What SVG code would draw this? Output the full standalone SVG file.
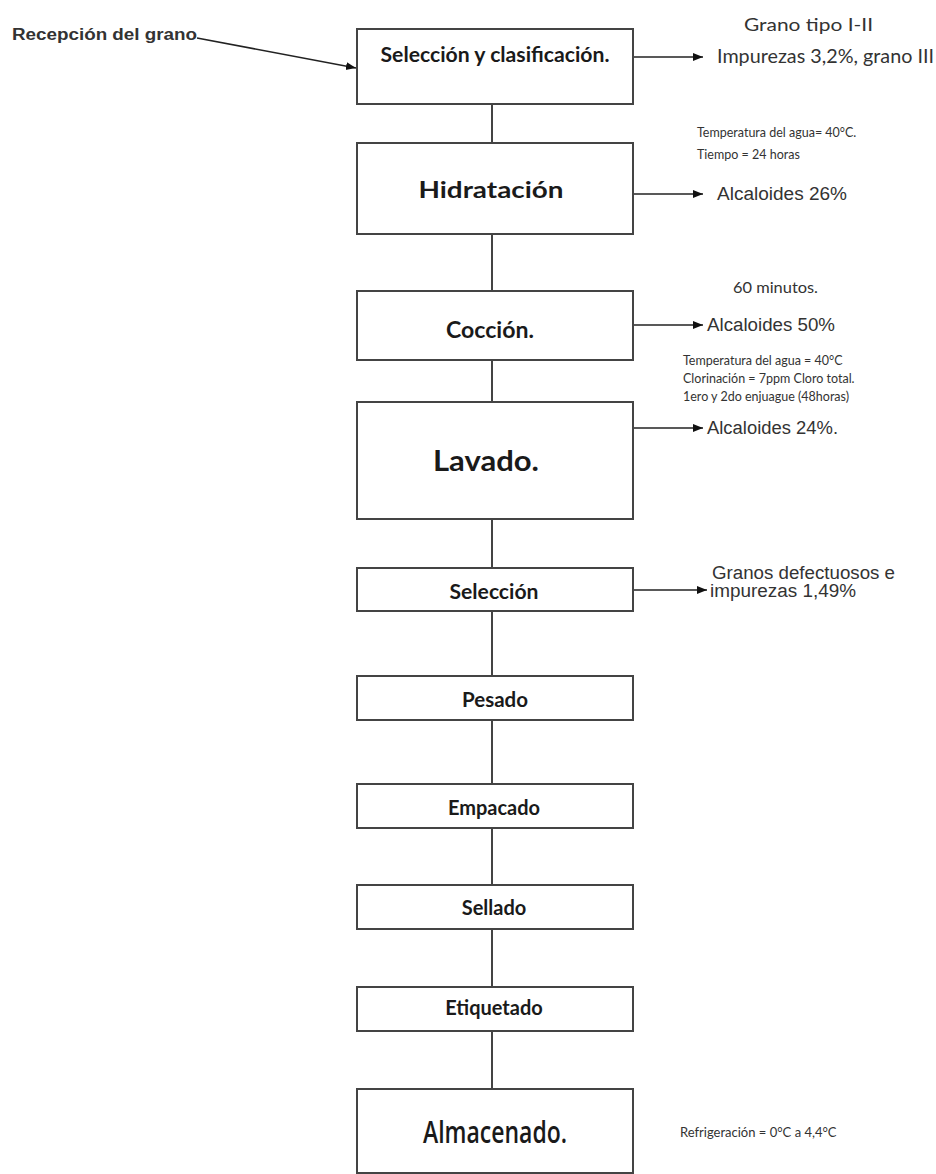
<svg xmlns="http://www.w3.org/2000/svg" width="936" height="1174" viewBox="0 0 936 1174">
<defs>
<marker id="arr" viewBox="0 0 10 10" refX="10" refY="5" markerWidth="10" markerHeight="10" markerUnits="userSpaceOnUse" orient="auto">
<path d="M0,1 L10,5 L0,9 z" fill="#111"/>
</marker>
<style>
.box{fill:#fff;stroke:#444;stroke-width:2}
.conn{stroke:#444;stroke-width:2;fill:none}
.arrow{stroke:#222;stroke-width:1.5;fill:none;marker-end:url(#arr)}
.lbl{font-family:Lato,"Open Sans",sans-serif;font-weight:bold;fill:#1a1a1a;text-anchor:middle}
.note{font-family:Lato,"Open Sans",sans-serif;fill:#333}
.arial{font-family:"Liberation Sans",Arial,sans-serif;fill:#333}
</style>
</defs>
<rect width="936" height="1174" fill="#fff"/>
<g id="connectors">
<line class="conn" x1="492" y1="104" x2="492" y2="143"/>
<line class="conn" x1="492" y1="234" x2="492" y2="291"/>
<line class="conn" x1="492" y1="360" x2="492" y2="402"/>
<line class="conn" x1="492" y1="519" x2="492" y2="568"/>
<line class="conn" x1="492" y1="611" x2="492" y2="676"/>
<line class="conn" x1="492" y1="720" x2="492" y2="784"/>
<line class="conn" x1="492" y1="828" x2="492" y2="885"/>
<line class="conn" x1="492" y1="929" x2="492" y2="987"/>
<line class="conn" x1="492" y1="1031" x2="492" y2="1089"/>
<line class="arrow" x1="197" y1="38" x2="356" y2="68"/>
<line class="arrow" x1="633" y1="57" x2="703" y2="57"/>
<line class="arrow" x1="633" y1="194" x2="703" y2="194"/>
<line class="arrow" x1="633" y1="325" x2="703" y2="325"/>
<line class="arrow" x1="633" y1="428" x2="703" y2="428"/>
<line class="arrow" x1="633" y1="590" x2="707" y2="590"/>
</g>
<g id="recepcion"><text class="arial" x="12" y="40" font-size="16" font-weight="bold" fill="#222" textLength="185" lengthAdjust="spacingAndGlyphs">Recepción del grano</text></g>
<g id="n1"><rect class="box" x="357" y="29" width="276" height="75"/><text class="lbl" x="495" y="62" font-size="20" textLength="229" lengthAdjust="spacingAndGlyphs">Selección y clasificación.</text></g>
<g id="n2"><rect class="box" x="357" y="143" width="276" height="91"/><text class="lbl" x="491" y="198" font-size="23" textLength="145" lengthAdjust="spacingAndGlyphs">Hidratación</text></g>
<g id="n3"><rect class="box" x="357" y="291" width="276" height="69"/><text class="lbl" x="490" y="338" font-size="23" textLength="88" lengthAdjust="spacingAndGlyphs">Cocción.</text></g>
<g id="n4"><rect class="box" x="357" y="402" width="276" height="117"/><text class="lbl" x="486" y="471" font-size="28" textLength="106" lengthAdjust="spacingAndGlyphs">Lavado.</text></g>
<g id="n5"><rect class="box" x="357" y="568" width="276" height="43"/><text class="lbl" x="494" y="599" font-size="20" textLength="89" lengthAdjust="spacingAndGlyphs">Selección</text></g>
<g id="n6"><rect class="box" x="357" y="676" width="276" height="44"/><text class="lbl" x="495" y="707" font-size="20" textLength="66" lengthAdjust="spacingAndGlyphs">Pesado</text></g>
<g id="n7"><rect class="box" x="357" y="784" width="276" height="44"/><text class="lbl" x="494" y="815" font-size="20">Empacado</text></g>
<g id="n8"><rect class="box" x="357" y="885" width="276" height="44"/><text class="lbl" x="494" y="915" font-size="20">Sellado</text></g>
<g id="n9"><rect class="box" x="357" y="987" width="276" height="44"/><text class="lbl" x="494" y="1015" font-size="20">Etiquetado</text></g>
<g id="n10"><rect class="box" x="357" y="1089" width="276" height="84"/><text x="495" y="1143" font-size="30" font-weight="600" text-anchor="middle" fill="#1a1a1a" style="font-family:'Open Sans',Lato,sans-serif" textLength="144" lengthAdjust="spacingAndGlyphs">Almacenado.</text></g>
<g id="notes">
<text class="note" x="744" y="31" font-size="18" textLength="129" lengthAdjust="spacingAndGlyphs">Grano tipo I-II</text>
<text class="note" x="717" y="63" font-size="19" textLength="217" lengthAdjust="spacingAndGlyphs">Impurezas 3,2%, grano III</text>
<text class="note" x="697" y="137" font-size="12.5">Temperatura del agua= 40°C.</text>
<text class="note" x="697" y="159" font-size="12.5">Tiempo = 24 horas</text>
<text class="arial" x="717" y="200" font-size="18" textLength="130" lengthAdjust="spacingAndGlyphs">Alcaloides 26%</text>
<text class="note" x="733" y="293" font-size="16" textLength="85" lengthAdjust="spacingAndGlyphs">60 minutos.</text>
<text class="arial" x="707" y="331" font-size="18" textLength="128" lengthAdjust="spacingAndGlyphs">Alcaloides 50%</text>
<text class="note" x="683" y="365" font-size="12.5">Temperatura del agua = 40°C</text>
<text class="note" x="683" y="383" font-size="12.5">Clorinación = 7ppm Cloro total.</text>
<text class="note" x="683" y="401" font-size="12.5">1ero y 2do enjuague (48horas)</text>
<text class="arial" x="707" y="434" font-size="18" textLength="131" lengthAdjust="spacingAndGlyphs">Alcaloides 24%.</text>
<text class="arial" x="712" y="579" font-size="18" textLength="183" lengthAdjust="spacingAndGlyphs">Granos defectuosos e</text>
<text class="arial" x="710" y="597" font-size="18" textLength="146" lengthAdjust="spacingAndGlyphs">impurezas  1,49%</text>
<text class="note" x="680" y="1137" font-size="13">Refrigeración = 0°C a 4,4°C</text>
</g>
</svg>
